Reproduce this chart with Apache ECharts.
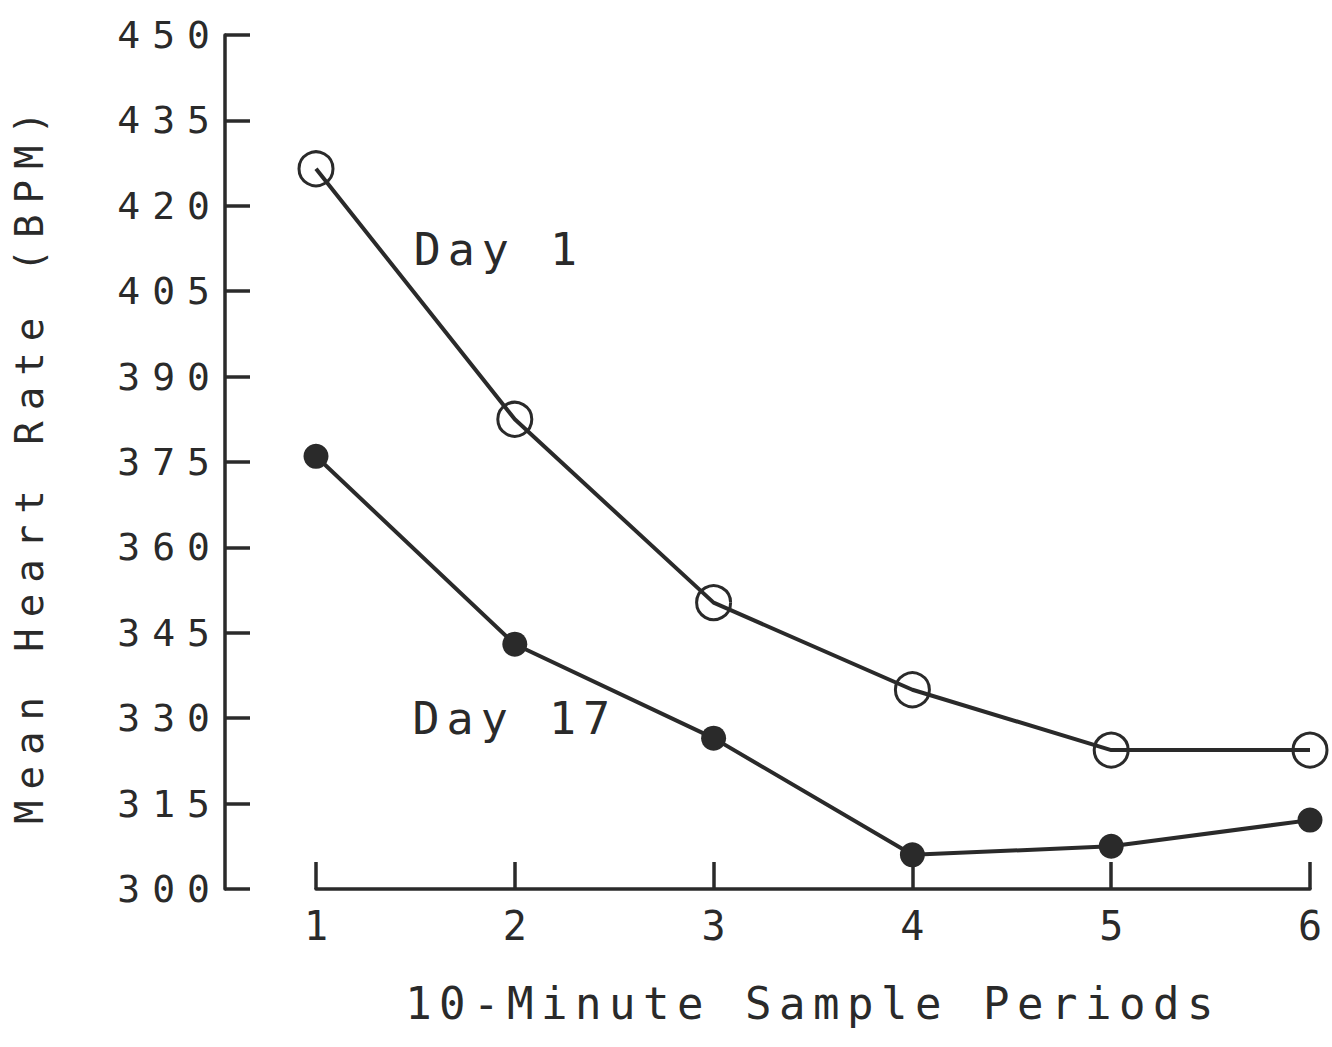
<!DOCTYPE html>
<html>
<head>
<meta charset="utf-8">
<script src="https://cdn.jsdelivr.net/npm/echarts@6/dist/echarts.min.js"></script>
<style>
html,body{margin:0;padding:0;background:#fff;}
#main{width:1332px;height:1047px;}
/* old plotter font: spread the mono glyphs out */
#main text[style*="38px"]{letter-spacing:12px;}
#main text[style*="39px"]{letter-spacing:11px;}
#main text[style*="44px"]{letter-spacing:7.5px;}
#main text[style*="45px"]{letter-spacing:7px;}
</style>
</head>
<body>
<div id="main"></div>
<script>
// 采样周期 / 两组心率
const periods = [1, 2, 3, 4, 5, 6];
const day1 = [426.5, 382.5, 350.3, 335, 324.4, 324.4];
const day17 = [376, 343, 326.5, 306, 307.5, 312.1];
const yMin = 300, yMax = 450, yStep = 15;
// 注释文字 [x, y, text]
const notes = [[1.92, 412.4, 'Day 1'], [2.0, 329.9, 'Day 17']];

const ink = '#2a2a2a';
const mono = '"DejaVu Sans Mono", "Liberation Mono", monospace';

const chart = echarts.init(document.getElementById('main'), null, {renderer: 'svg'});

function pairs(ys) {
    return periods.map((p, i) => [p, ys[i]]);
}
function note(n) {
    return {
        coord: [n[0], n[1]],
        symbol: 'circle',
        symbolSize: 1,
        itemStyle: {color: 'rgba(0,0,0,0)'},
        label: {
            show: true,
            position: 'inside',
            formatter: n[2],
            fontFamily: mono,
            fontSize: 45,
            color: ink
        }
    };
}

chart.setOption({
    backgroundColor: '#fff',
    animation: false,
    grid: {left: 316, right: 22, top: 35, bottom: 158},
    xAxis: {
        type: 'value',
        min: 1,
        max: 6,
        interval: 1,
        name: '10-Minute Sample Periods',
        nameLocation: 'middle',
        nameGap: 92,
        nameTextStyle: {fontFamily: mono, fontSize: 44, color: ink},
        splitLine: {show: false},
        axisLine: {lineStyle: {color: ink, width: 3.5}},
        axisTick: {inside: true, length: 27, lineStyle: {color: ink, width: 3.5}},
        axisLabel: {margin: 17, fontFamily: mono, fontSize: 40, color: ink}
    },
    yAxis: {
        type: 'value',
        min: yMin,
        max: yMax,
        interval: yStep,
        offset: 91,
        name: 'Mean Heart Rate (BPM)',
        nameLocation: 'middle',
        nameGap: 176,
        nameTextStyle: {fontFamily: mono, fontSize: 39, color: ink},
        splitLine: {show: false},
        axisLine: {show: true, lineStyle: {color: ink, width: 3.5}},
        axisTick: {show: true, inside: true, length: 25, lineStyle: {color: ink, width: 3.5}},
        axisLabel: {margin: 3, fontFamily: mono, fontSize: 38, color: ink}
    },
    series: [
        {
            name: 'Day 1',
            type: 'line',
            data: pairs(day1),
            symbol: 'circle',
            symbolSize: 34,
            lineStyle: {color: ink, width: 4},
            itemStyle: {color: 'rgba(255,255,255,0)', borderColor: ink, borderWidth: 3},
            markPoint: {data: [note(notes[0])]}
        },
        {
            name: 'Day 17',
            type: 'line',
            data: pairs(day17),
            symbol: 'circle',
            symbolSize: 25,
            lineStyle: {color: ink, width: 4},
            itemStyle: {color: ink},
            markPoint: {data: [note(notes[1])]}
        }
    ]
});
</script>
</body>
</html>
